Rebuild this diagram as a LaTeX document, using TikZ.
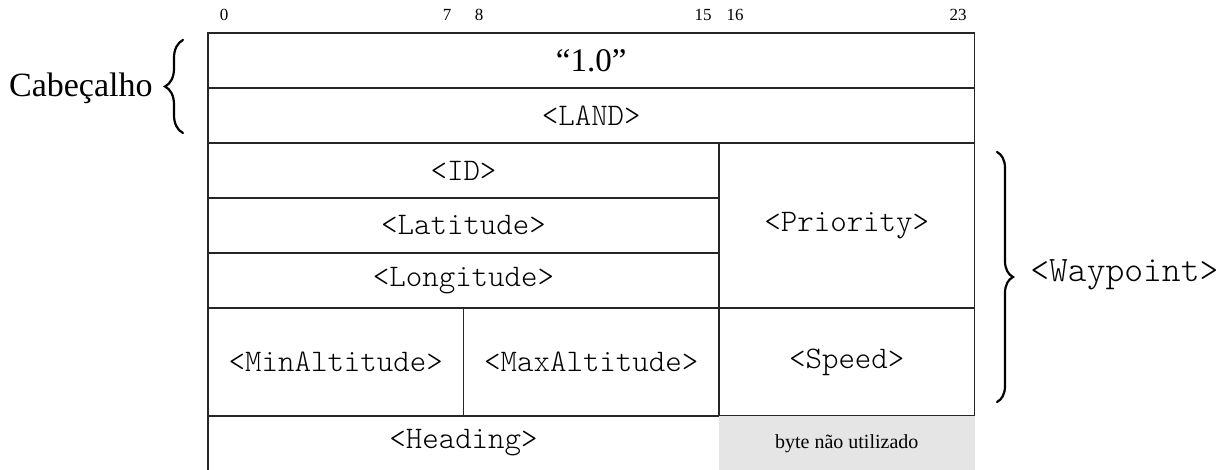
\documentclass[tikz,border=0pt]{standalone}
\usepackage{fontspec}
\setmainfont{Liberation Serif}
\setmonofont{Latin Modern Mono Light}
\usetikzlibrary{decorations.pathreplacing}
\begin{document}
\begin{tikzpicture}[x=0.5pt,y=-0.5pt,
  cell/.style={draw=black!85, line width=0.65pt, inner sep=0pt, outer sep=0pt,
    font=\fontsize{15.7}{18}\selectfont\ttfamily},
  plaincell/.style={draw=none, inner sep=0pt, outer sep=0pt,
    font=\fontsize{15.7}{18}\selectfont\ttfamily},
  unusedcell/.style={draw=none, fill=black!10, inner sep=0pt, outer sep=0pt,
    font=\fontsize{10}{12}\selectfont},
  bitlabel/.style={anchor=base, inner sep=0pt, font=\fontsize{8.5}{10}\selectfont},
  bracestyle/.style={decorate, line width=1.1pt, line cap=round},
]
\useasboundingbox (0,0) rectangle (1228,470);

% bit numbers
\node[bitlabel] (b0)  at (224,21) {0};
\node[bitlabel] (b7)  at (447,21) {7};
\node[bitlabel] (b8)  at (479,21) {8};
\node[bitlabel] (b15) at (703,21) {15};
\node[bitlabel] (b16) at (735,21) {16};
\node[bitlabel] (b23) at (958,21) {23};

% cells
\node[cell, minimum width=383.25pt, minimum height=27.5pt, font=\fontsize{16.5}{19}\selectfont] (ver) at (591.25,60.5) {“1.0”};
\node[cell, minimum width=383.25pt, minimum height=27.5pt] (land) at (591.25,115.5) {<LAND>};
\node[cell, minimum width=255.5pt, minimum height=27.5pt] (id) at (463.5,170.5) {<ID>};
\node[cell, minimum width=255.5pt, minimum height=27.5pt] (lat) at (463.5,225.5) {<Latitude>};
\node[cell, minimum width=255.5pt, minimum height=27.5pt] (lon) at (463.5,280.5) {<Longitude>};
\node[cell, minimum width=127.75pt, minimum height=82.5pt] (prio) at (846.75,225.5) {<Priority>};
\node[cell, minimum width=127.75pt, minimum height=54pt] (minalt) at (335.75,362) {<MinAltitude>};
\node[cell, minimum width=127.75pt, minimum height=54pt] (maxalt) at (591.25,362) {<MaxAltitude>};
\node[cell, minimum width=127.75pt, minimum height=54pt] (speed) at (846.75,362) {<Speed>};
\node[plaincell, minimum width=255.5pt, minimum height=27pt] (heading) at (463.5,443) {<Heading>};
\node[unusedcell, minimum width=127.75pt, minimum height=26.75pt] (unused) at (846.75,443.25) {byte não utilizado};
\draw[black!85, line width=0.65pt] (heading.north west) -- (heading.south west);

% left brace: Cabeçalho
\coordinate (lbA) at (183,133);
\coordinate (lbB) at (183,40);
\draw[bracestyle, decoration={brace, amplitude=9pt}] (lbA) -- (lbB);
\node[anchor=base east, inner sep=0pt, font=\fontsize{17}{20}\selectfont] (cab) at (153,97) {Cabeçalho};

% right brace: Waypoint
\coordinate (rbA) at (997,152);
\coordinate (rbB) at (997,402);
\draw[bracestyle, decoration={brace, amplitude=8pt}] (rbA) -- (rbB);
\node[anchor=base west, inner sep=0pt, font=\fontsize{17.9}{20}\selectfont\ttfamily] (wp) at (1030,282) {<Waypoint>};
\end{tikzpicture}
\end{document}
